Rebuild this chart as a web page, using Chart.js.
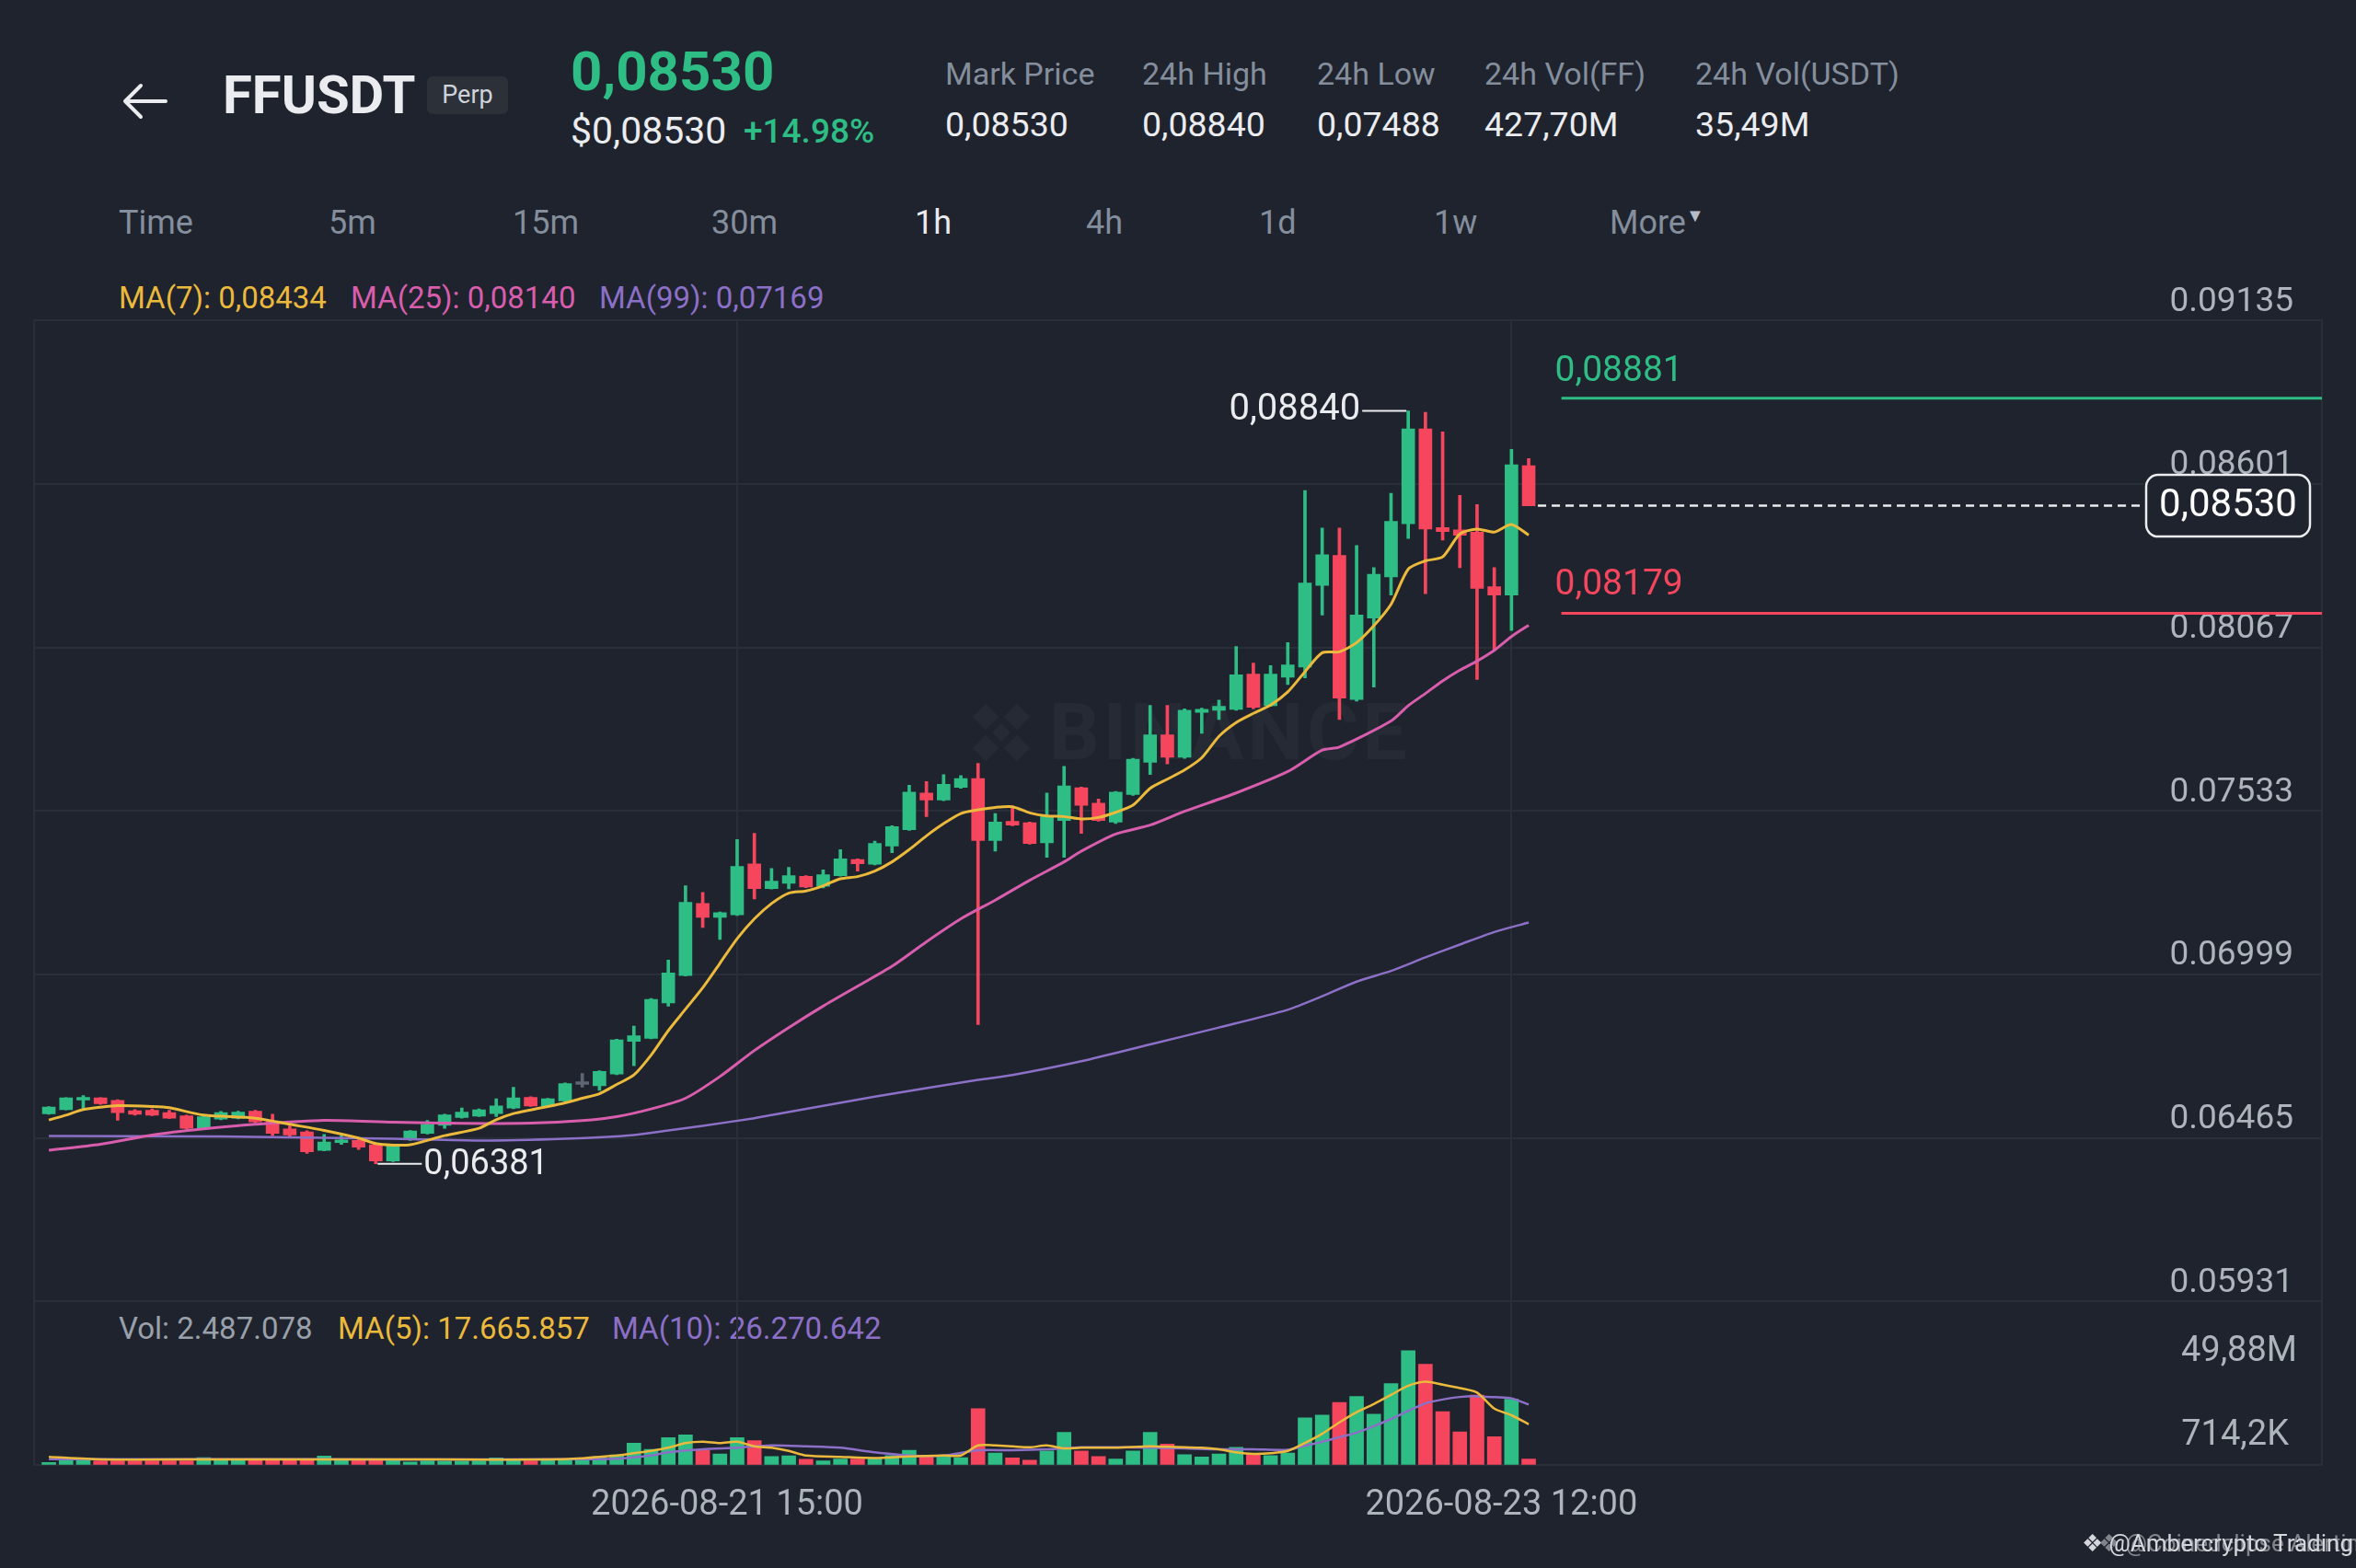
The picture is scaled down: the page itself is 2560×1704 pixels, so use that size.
<!DOCTYPE html>
<html>
<head>
<meta charset="utf-8">
<script src="https://cdn.jsdelivr.net/npm/chart.js@4.4.1/dist/chart.umd.min.js"></script>
<style>
html,body{margin:0;padding:0;background:#1f232d;}
body{width:2560px;height:1704px;position:relative;overflow:hidden;font-family:Roboto,"Noto Sans",sans-serif;}
.t{position:absolute;white-space:nowrap;transform:translateY(-50%);line-height:1;}
.lbl{font-size:34px;color:#848e9c;}
.val{font-size:37.5px;color:#eaecef;}
.tf{font-size:36px;color:#848e9c;}
.leg{font-size:33px;}
#c{position:absolute;left:0;top:0;}
#mark{position:absolute;left:1040px;top:745px;opacity:0.03;}
</style>
</head>
<body>

<!-- header -->
<svg style="position:absolute;left:132px;top:88px" width="52" height="44">
  <path d="M4 22 H48 M4 22 L21 5 M4 22 L21 39" stroke="#eaecef" stroke-width="4" fill="none" stroke-linecap="round"/>
</svg>
<div class="t" style="left:242px;top:103px;font-size:58px;font-weight:700;color:#eaecef">FFUSDT</div>
<div style="position:absolute;left:464px;top:83px;width:88px;height:41px;background:#2b3039;border-radius:6px;color:#cfd3d9;font-size:27px;line-height:41px;text-align:center">Perp</div>
<div class="t" style="left:620px;top:78px;font-size:60px;font-weight:700;color:#2ebd85">0,08530</div>
<div class="t" style="left:620px;top:142px;font-size:41px;color:#eaecef">$0,08530</div>
<div class="t" style="left:808px;top:142px;font-size:37px;font-weight:500;color:#2ebd85">+14.98%</div>

<div class="t lbl" style="left:1027px;top:80px">Mark Price</div>
<div class="t lbl" style="left:1241px;top:80px">24h High</div>
<div class="t lbl" style="left:1431px;top:80px">24h Low</div>
<div class="t lbl" style="left:1613px;top:80px">24h Vol(FF)</div>
<div class="t lbl" style="left:1842px;top:80px">24h Vol(USDT)</div>
<div class="t val" style="left:1027px;top:136px">0,08530</div>
<div class="t val" style="left:1241px;top:136px">0,08840</div>
<div class="t val" style="left:1431px;top:136px">0,07488</div>
<div class="t val" style="left:1613px;top:136px">427,70M</div>
<div class="t val" style="left:1842px;top:136px">35,49M</div>

<div class="t tf" style="left:129px;top:242px">Time</div>
<div class="t tf" style="left:357px;top:242px">5m</div>
<div class="t tf" style="left:557px;top:242px">15m</div>
<div class="t tf" style="left:773px;top:242px">30m</div>
<div class="t tf" style="left:994px;top:242px;color:#eaecef">1h</div>
<div class="t tf" style="left:1180px;top:242px">4h</div>
<div class="t tf" style="left:1368px;top:242px">1d</div>
<div class="t tf" style="left:1558px;top:242px">1w</div>
<div class="t tf" style="left:1749px;top:242px">More<span style="font-size:20px;vertical-align:top;color:#b7bdc6">&#9660;</span></div>

<div class="t leg" style="left:129px;top:323px;color:#ebb93c">MA(7): 0,08434</div>
<div class="t leg" style="left:381px;top:323px;color:#d85ead">MA(25): 0,08140</div>
<div class="t leg" style="left:651px;top:323px;color:#8c70c8">MA(99): 0,07169</div>

<div class="t leg" style="left:129px;top:1443px;color:#9aa0aa">Vol: 2.487.078</div>
<div class="t leg" style="left:367px;top:1443px;color:#ebb93c">MA(5): 17.665.857</div>
<div class="t leg" style="left:665px;top:1443px;color:#8c70c8">MA(10): 26.270.642</div>

<!-- faint watermark behind chart -->
<div id="mark">
  <svg width="96" height="96" style="vertical-align:middle">
    <g fill="#ffffff" transform="rotate(45 48 48)">
      <rect x="38" y="14" width="20" height="20"/>
      <rect x="14" y="38" width="20" height="20"/>
      <rect x="62" y="38" width="20" height="20"/>
      <rect x="38" y="62" width="20" height="20"/>
      <rect x="41" y="41" width="14" height="14"/>
    </g>
  </svg>
  <span style="font-size:86px;font-weight:700;color:#ffffff;vertical-align:middle;letter-spacing:4px">BINANCE</span>
</div>

<canvas id="c" width="2560" height="1704"></canvas>

<div class="t" style="left:2262px;top:1677px;font-size:26px;color:#d3d6db">&#10070; @Ambercrypto Trading</div>
<div class="t" style="left:2280px;top:1677px;font-size:26px;color:rgba(211,214,219,0.55)">&#10070; @Coinedclipse Alerting</div>

<script>
// ---- data (1h candles, first = 2026-08-19 23:00) ----
const candleOpen = [
  0.06544,0.06558,0.06589,0.06596,0.06588,0.06554,0.06556,0.06548,0.06538,0.06498,
  0.06527,0.06530,0.06553,0.06520,0.06495,0.06485,0.06425,0.06450,0.06457,0.06443,
  0.06390,0.06459,0.06480,0.06507,0.06532,0.06537,0.06545,0.06563,0.06598,0.06570,
  0.06586,0.06640,0.06636,0.06674,0.06781,0.06791,0.06906,0.06996,0.07231,0.07186,
  0.07194,0.07360,0.07280,0.07297,0.07320,0.07287,0.07322,0.07375,0.07359,0.07419,
  0.07472,0.07592,0.07569,0.07610,0.07639,0.07437,0.07499,0.07495,0.07429,0.07502,
  0.07609,0.07559,0.07497,0.07587,0.07692,0.07782,0.07709,0.07855,0.07862,0.07865,
  0.07980,0.07877,0.07970,0.08003,0.08270,0.08368,0.07897,0.08163,0.08298,0.08471,
  0.08781,0.08459,0.08451,0.08444,0.08266,0.08238,0.08661
];
const candleHigh = [
  0.06568,0.06597,0.06604,0.06597,0.06590,0.06558,0.06560,0.06556,0.06540,0.06537,
  0.06552,0.06553,0.06556,0.06543,0.06505,0.06489,0.06477,0.06473,0.06465,0.06447,
  0.06445,0.06490,0.06523,0.06543,0.06563,0.06560,0.06593,0.06631,0.06600,0.06595,
  0.06645,0.06676,0.06685,0.06788,0.06831,0.06921,0.07046,0.07289,0.07267,0.07203,
  0.07440,0.07460,0.07345,0.07349,0.07322,0.07341,0.07407,0.07377,0.07435,0.07485,
  0.07617,0.07629,0.07652,0.07649,0.07689,0.07525,0.07549,0.07497,0.07592,0.07679,
  0.07611,0.07572,0.07597,0.07705,0.07878,0.07878,0.07867,0.07869,0.07895,0.08070,
  0.08016,0.08008,0.08083,0.08580,0.08457,0.08457,0.08400,0.08328,0.08571,0.08840,
  0.08835,0.08771,0.08564,0.08534,0.08328,0.08714,0.08684
];
const candleLow = [
  0.06543,0.06557,0.06558,0.06575,0.06523,0.06540,0.06538,0.06529,0.06495,0.06496,
  0.06525,0.06528,0.06515,0.06473,0.06470,0.06415,0.06423,0.06444,0.06428,0.06381,
  0.06388,0.06457,0.06478,0.06497,0.06530,0.06535,0.06535,0.06561,0.06568,0.06568,
  0.06584,0.06631,0.06621,0.06672,0.06701,0.06789,0.06896,0.06994,0.07153,0.07114,
  0.07192,0.07246,0.07278,0.07279,0.07283,0.07282,0.07320,0.07337,0.07357,0.07397,
  0.07470,0.07515,0.07567,0.07607,0.06836,0.07402,0.07485,0.07425,0.07382,0.07382,
  0.07460,0.07500,0.07492,0.07584,0.07652,0.07687,0.07705,0.07787,0.07832,0.07862,
  0.07867,0.07875,0.07946,0.07968,0.08173,0.07832,0.07892,0.07938,0.08238,0.08423,
  0.08243,0.08418,0.08328,0.07963,0.08058,0.08123,0.08530
];
const candleClose = [
  0.06566,0.06596,0.06596,0.06577,0.06548,0.06543,0.06540,0.06530,0.06497,0.06535,
  0.06548,0.06550,0.06518,0.06480,0.06475,0.06420,0.06452,0.06457,0.06435,0.06390,
  0.06443,0.06488,0.06510,0.06541,0.06550,0.06557,0.06570,0.06596,0.06570,0.06593,
  0.06643,0.06640,0.06683,0.06786,0.06799,0.06918,0.07004,0.07235,0.07186,0.07201,
  0.07352,0.07280,0.07304,0.07322,0.07285,0.07325,0.07377,0.07361,0.07427,0.07482,
  0.07595,0.07569,0.07620,0.07639,0.07437,0.07497,0.07487,0.07427,0.07515,0.07615,
  0.07552,0.07502,0.07595,0.07702,0.07782,0.07709,0.07862,0.07865,0.07875,0.07978,
  0.07872,0.07980,0.08010,0.08278,0.08370,0.07902,0.08173,0.08306,0.08479,0.08781,
  0.08454,0.08446,0.08434,0.08260,0.08238,0.08664,0.08530
];
// volume in millions
const volume = [
  0.94,2.4,2.3,1.7,1.7,1.7,1.7,1.7,1.7,3.1,
  2.3,2.3,2.0,2.5,2.0,2.0,3.75,2.3,2.3,2.3,
  2.5,1.2,1.7,1.6,1.6,1.7,2.95,2.5,1.7,2.0,
  2.5,2.5,3.6,4.3,9.4,6.7,11.8,13.0,6.3,4.7,
  11.8,10.5,3.6,3.9,2.4,1.7,2.5,2.5,2.7,4.0,
  6.3,3.9,3.4,3.1,24.5,5.1,2.95,2.0,6.0,14.1,
  6.0,3.6,2.5,6.0,14.1,9.0,4.4,3.4,4.7,7.6,
  4.7,4.0,5.1,20.5,21.7,27.2,29.8,22.1,35.5,49.88,
  43.9,23.2,14.3,30.4,12.2,28.6,2.487
];

// moving average lines as [candle index, value]
const ma7Points = [
  [0,.06524],[1,.0654],[2,.06558],[3,.06566],[4,.06571],[6,.06568],[7,.06564],[9,.0654],[12,.0653],
  [14,.0651],[16,.0649],[18,.06465],[19,.06447],[20,.06442],[21,.06443],[23,.06473],[25,.06497],
  [26,.06525],[27,.06545],[28,.06557],[29,.06568],[30,.0658],[31,.06595],[32,.0661],[33,.0664],
  [34,.06671],[35,.06736],[36,.06816],[37,.06886],[38,.06956],[39,.07036],[40,.07116],[41,.07181],
  [42,.07231],[43,.07265],[44,.07272],[45,.07289],[46,.07312],[47,.07319],[48,.07337],[49,.07367],
  [50,.07407],[51,.07452],[52,.07492],[53,.07525],[54,.07537],[55,.07545],[56,.07547],[57,.07527],
  [58,.07517],[59,.07515],[60,.07507],[61,.07512],[62,.07529],[63,.07552],[64,.07607],[65,.07637],
  [66,.07667],[67,.07707],[68,.07777],[69,.07822],[70,.07852],[71,.07879],[72,.07922],[73,.07988],
  [74,.0805],[75,.08053],[76,.08083],[77,.08138],[78,.08208],[79,.08323],[80,.0835],[81,.08363],
  [82,.08438],[83,.08454],[84,.08444],[85,.08469],[86,.08434]
];
const ma25Points = [
  [0,.06425],[3,.06445],[6,.06475],[9,.06495],[12,.0651],[16,.06523],[20,.06517],[24,.06513],
  [28,.06514],[31,.06522],[33,.06535],[35,.0656],[37,.06595],[39,.06666],[41,.06751],[43,.06826],
  [45,.06896],[47,.06961],[49,.07026],[51,.07106],[53,.07181],[55,.07242],[57,.07307],[59,.07367],
  [60,.07402],[62,.07458],[64,.07487],[66,.07532],[69,.07592],[72,.07662],[74,.07732],[75,.07742],
  [78,.07827],[79,.07877],[80,.07917],[81,.07958],[82,.07993],[83,.08023],[84,.08058],[85,.08103],
  [86,.0814]
];
const ma99Points = [
  [0,.06472],[10,.0647],[20,.06463],[25,.06457],[30,.06463],[34,.06475],[36,.0649],[38,.06505],
  [41,.0653],[42,.0654],[48,.066],[54,.06655],[56,.06671],[60,.06716],[64,.06771],[68,.06826],
  [72,.06884],[74,.06928],[76,.06976],[78,.07011],[80,.07055],[82,.07097],[84,.07138],[86,.07169]
];
const volMa5Points = [
  [0,3.4],[3,2.3],[10,2.3],[20,2.3],[30,2.4],[33,4.0],[34,5.0],[35,6.0],[36,7.4],[37,9.4],
  [38,10.0],[39,9.4],[40,10.0],[41,8.0],[42,7.4],[43,6.0],[44,4.0],[46,3.4],[48,2.9],[50,3.6],
  [52,4.0],[53,4.0],[54,8.4],[55,8.4],[56,8.0],[57,7.6],[58,8.4],[59,7.1],[60,7.4],[62,7.4],
  [64,8.0],[65,7.8],[66,7.6],[67,7.4],[68,6.7],[69,5.4],[70,4.7],[71,5.0],[72,6.0],[73,9.5],
  [74,13.5],[75,18.5],[76,23.0],[77,26.5],[78,30.5],[79,34.5],[80,36.3],[81,35.0],[82,33.5],
  [83,31.5],[84,24.5],[85,21.6],[86,17.67]
];
const volMa10Points = [
  [0,2.4],[10,2.4],[20,2.3],[30,2.4],[33,2.6],[35,4.0],[36,5.4],[38,6.7],[40,7.4],[42,8.4],
  [44,8.0],[46,7.4],[48,5.4],[50,4.0],[52,4.0],[54,6.3],[56,6.3],[58,6.7],[60,7.6],[62,7.6],
  [64,7.4],[66,7.1],[68,6.7],[70,6.7],[72,6.5],[73,8.3],[74,10.0],[75,12.0],[76,14.0],[77,16.8],
  [78,20.0],[79,23.5],[80,26.8],[81,28.5],[82,29.6],[83,29.9],[84,29.5],[85,29.0],[86,26.27]
];

const priceTicks = [0.09135, 0.08601, 0.08067, 0.07533, 0.06999, 0.06465, 0.05931];
const xTickIndex = [40, 85];
const xTickLabels = ['2026-08-21 15:00', '2026-08-23 12:00'];
const volAxisValues = [49.88, 0.7142];
const volAxisLabels = ['49,88M', '714,2K'];
const takeProfit = 0.08881;
const stopLoss = 0.08179;

// ---- look ----
const FONT = 'Roboto, "Noto Sans", sans-serif';
const GREEN = '#2ebd85', RED = '#f6465d', GREY = '#5e6673';
const GRID = '#2a2e38';
const TICK = '#aeb4bc';
const X_MIN = -0.86, X_MAX = 132.1;
const VOL_MAX = 71.3;

const last = candleClose.length - 1;
const fmt = v => v.toFixed(5).replace('.', ',');

function candleColor(i){
    if (candleClose[i] > candleOpen[i]) return GREEN;
    if (candleClose[i] < candleOpen[i]) return RED;
    return GREY;
}
function volColor(i){
    return candleClose[i] >= candleOpen[i] ? GREEN : RED;
}
const toXY = pts => pts.map(p => ({x: p[0], y: p[1]}));

const wickData = candleLow.map((l, i) => ({x: i, y: [l, candleHigh[i]]}));
const bodyData = candleOpen.map((o, i) => ({x: i, y: [o, candleClose[i]]}));
const volData = volume.map((v, i) => ({x: i, y: v}));

function maLine(pts, color, axis, width){
    return {
        type: 'line',
        data: toXY(pts),
        yAxisID: axis,
        borderColor: color,
        borderWidth: width,
        pointRadius: 0,
        tension: 0.25,
        order: 0
    };
}
function levelLine(value, color){
    return {
        type: 'line',
        data: [{x: last + 1.9, y: value}, {x: X_MAX, y: value}],
        yAxisID: 'y',
        borderColor: color,
        borderWidth: 3,
        pointRadius: 0,
        order: 0
    };
}

// labels, price box and extremes drawn on top using the chart's scales
const overlay = {
    id: 'overlay',
    afterDraw(chart){
        const {ctx, chartArea, scales} = chart;
        const x = scales.x, y = scales.y, yv = scales.yVol;
        ctx.save();
        ctx.textBaseline = 'middle';

        // highest high
        const hi = candleHigh.indexOf(Math.max(...candleHigh));
        const hx = x.getPixelForValue(hi), hy = y.getPixelForValue(candleHigh[hi]);
        ctx.strokeStyle = '#eaecef';
        ctx.lineWidth = 2;
        ctx.beginPath(); ctx.moveTo(hx - 2, hy); ctx.lineTo(hx - 50, hy); ctx.stroke();
        ctx.font = '40px ' + FONT;
        ctx.fillStyle = '#eaecef';
        ctx.textAlign = 'right';
        ctx.fillText(fmt(candleHigh[hi]), hx - 52, hy);

        // lowest low
        const lo = candleLow.indexOf(Math.min(...candleLow));
        const lx = x.getPixelForValue(lo), ly = y.getPixelForValue(candleLow[lo]);
        ctx.beginPath(); ctx.moveTo(lx + 2, ly); ctx.lineTo(lx + 50, ly); ctx.stroke();
        ctx.font = '38px ' + FONT;
        ctx.textAlign = 'left';
        ctx.fillText(fmt(candleLow[lo]), lx + 52, ly + 2);

        // take profit / stop loss labels
        const lvX = x.getPixelForValue(last + 1.9) - 7;
        ctx.font = '39px ' + FONT;
        ctx.fillStyle = GREEN;
        ctx.fillText(fmt(takeProfit), lvX, y.getPixelForValue(takeProfit) - 29);
        ctx.fillStyle = RED;
        ctx.fillText(fmt(stopLoss), lvX, y.getPixelForValue(stopLoss) - 30);

        // current price dashed line and box
        const cy = y.getPixelForValue(candleClose[last]);
        const boxW = 178, boxH = 67;
        const boxR = chartArea.right - 13, boxL = boxR - boxW;
        ctx.strokeStyle = '#eaecef';
        ctx.lineWidth = 2.5;
        ctx.setLineDash([9, 6]);
        ctx.beginPath();
        ctx.moveTo(x.getPixelForValue(last) + 10, cy);
        ctx.lineTo(boxL, cy);
        ctx.stroke();
        ctx.setLineDash([]);
        ctx.fillStyle = '#1f232d';
        ctx.lineWidth = 2.5;
        ctx.beginPath();
        ctx.roundRect(boxL, cy - boxH / 2, boxW, boxH, 13);
        ctx.fill();
        ctx.stroke();
        ctx.fillStyle = '#ffffff';
        ctx.font = '42px ' + FONT;
        ctx.textAlign = 'center';
        ctx.fillText(fmt(candleClose[last]), boxL + boxW / 2, cy + 1);

        // volume axis labels
        ctx.fillStyle = TICK;
        ctx.font = '38px ' + FONT;
        ctx.textAlign = 'right';
        ctx.fillText(volAxisLabels[0], chartArea.right - 27, yv.getPixelForValue(volAxisValues[0]) + 2);
        ctx.fillText(volAxisLabels[1], chartArea.right - 36, yv.getPixelForValue(volAxisValues[1]) - 29);

        ctx.restore();
    }
};

new Chart(document.getElementById('c'), {
    type: 'bar',
    data: {
        datasets: [
            {
                data: wickData,
                yAxisID: 'y',
                backgroundColor: c => candleColor(c.dataIndex),
                barThickness: 3,
                grouped: false,
                order: 2
            },
            {
                data: bodyData,
                yAxisID: 'y',
                backgroundColor: c => candleColor(c.dataIndex),
                barThickness: 14,
                minBarLength: 3,
                grouped: false,
                order: 1
            },
            {
                data: volData,
                yAxisID: 'yVol',
                backgroundColor: c => volColor(c.dataIndex),
                barThickness: 15,
                minBarLength: 2,
                grouped: false,
                order: 1
            },
            maLine(ma7Points, '#ebb93c', 'y', 3),
            maLine(ma25Points, '#d85ead', 'y', 3),
            maLine(ma99Points, '#8c70c8', 'y', 2.5),
            maLine(volMa5Points, '#ebb93c', 'yVol', 2.5),
            maLine(volMa10Points, '#8c70c8', 'yVol', 2.5),
            levelLine(takeProfit, GREEN),
            levelLine(stopLoss, RED)
        ]
    },
    options: {
        responsive: false,
        animation: false,
        devicePixelRatio: 1,
        events: [],
        layout: {
            autoPadding: false,
            padding: {left: 37, right: 37, top: 348.3, bottom: 0}
        },
        plugins: {
            legend: {display: false},
            tooltip: {enabled: false}
        },
        scales: {
            x: {
                type: 'linear',
                position: 'bottom',
                bounds: 'data',
                min: X_MIN,
                max: X_MAX,
                offset: false,
                afterBuildTicks: s => {
                    s.ticks = [{value: X_MIN}].concat(xTickIndex.map(v => ({value: v})));
                },
                afterFit: s => { s.height = 112.3; },
                grid: {color: GRID, lineWidth: 2, drawTicks: false, offset: false},
                border: {display: true, color: GRID, width: 2},
                ticks: {
                    autoSkip: false,
                    maxRotation: 0,
                    padding: 22,
                    labelOffset: -11,
                    color: TICK,
                    font: {size: 38, family: FONT},
                    callback: v => {
                        const k = xTickIndex.indexOf(v);
                        return k < 0 ? '' : xTickLabels[k];
                    }
                }
            },
            y: {
                type: 'linear',
                position: 'right',
                stack: 'pane',
                stackWeight: 1066,
                bounds: 'data',
                min: priceTicks[priceTicks.length - 1],
                max: priceTicks[0],
                afterBuildTicks: s => { s.ticks = priceTicks.map(v => ({value: v})); },
                afterFit: s => { s.width = 0; },
                grid: {color: GRID, lineWidth: 2, drawTicks: false},
                border: {display: true, color: GRID, width: 2},
                ticks: {
                    mirror: true,
                    padding: -31,
                    labelOffset: -20,
                    color: TICK,
                    font: {size: 37, family: FONT},
                    callback: v => v.toFixed(5)
                }
            },
            yVol: {
                type: 'linear',
                position: 'right',
                stack: 'pane',
                stackWeight: 177.2,
                bounds: 'data',
                min: 0,
                max: VOL_MAX,
                afterFit: s => { s.width = 0; },
                grid: {display: false},
                border: {display: true, color: GRID, width: 2},
                ticks: {display: false}
            }
        }
    },
    plugins: [overlay]
});
</script>
</body>
</html>
